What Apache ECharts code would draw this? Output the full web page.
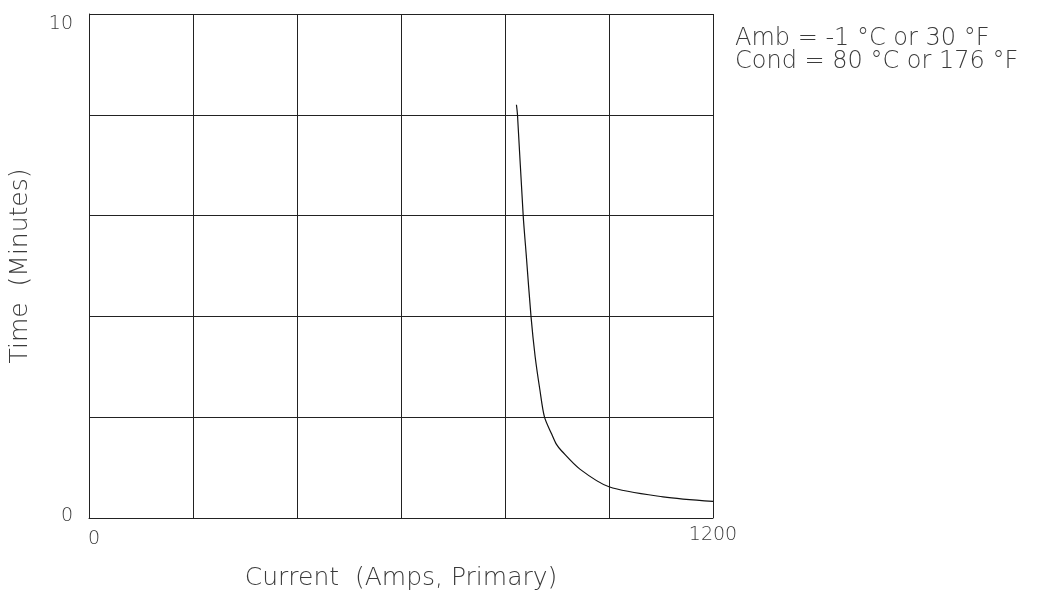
<!DOCTYPE html>
<html lang="en">
<head>
    <meta charset="UTF-8">
    <title>Time vs Current</title>
    <script src="https://cdn.jsdelivr.net/npm/echarts@6.0.0/dist/echarts.min.js"></script>
    <style>
        html, body { margin: 0; padding: 0; background: #fff; }
        #chart { width: 1054px; height: 592px; }
    </style>
</head>
<body>
    <div id="chart"></div>
    <script>
        // curve (amps, minutes)
        var currentAmps = [822, 824, 835, 841, 850, 858, 867, 876, 890, 899, 909, 944, 1000, 1104, 1200];
        var timeMinutes = [8.2, 8.0, 6.0, 5.2, 4.0, 3.2, 2.55, 2.0, 1.66, 1.46, 1.33, 0.97, 0.62, 0.42, 0.33];
        var xTickLabels = ['0', '1200'];
        var yTickLabels = ['0', '10'];
        var noteLines = ['Amb = -1 °C or 30 °F', 'Cond = 80 °C or 176 °F'];

        var chart = echarts.init(document.getElementById('chart'));
        var font = '"DejaVu Sans", sans-serif';
        var ink = '#3a3a3a';

        var points = currentAmps.map(function (a, i) { return [a, timeMinutes[i]]; });

        var labelStyle = { fontFamily: font, fontSize: 19, fontWeight: 200, color: ink };

        var option = {
            animation: false,
            backgroundColor: '#fff',
            grid: { left: 89, right: 341, top: 14, bottom: 74, outerBoundsMode: 'none' },
            xAxis: {
                type: 'value',
                min: 0,
                max: 1200,
                interval: 200,
                name: 'Current  (Amps, Primary)',
                nameLocation: 'middle',
                nameGap: 48,
                nameTextStyle: { fontFamily: font, fontSize: 25, fontWeight: 200, color: ink },
                axisLine: { show: true, lineStyle: { color: '#222', width: 1 } },
                axisTick: { show: false },
                splitLine: { show: true, lineStyle: { color: '#222', width: 1 } },
                axisLabel: {
                    margin: 8,
                    formatter: function (v) {
                        if (v === 0) return '{lo|' + xTickLabels[0] + '}';
                        if (v === 1200) return '{hi|' + xTickLabels[1] + '}';
                        return '';
                    },
                    rich: {
                        lo: Object.assign({ padding: [4, 0, 0, 10] }, labelStyle),
                        hi: Object.assign({ padding: [0, 0, 0, 0] }, labelStyle)
                    }
                }
            },
            yAxis: {
                type: 'value',
                min: 0,
                max: 10,
                interval: 2,
                name: 'Time  (Minutes)',
                nameLocation: 'middle',
                nameGap: 56,
                nameTextStyle: { fontFamily: font, fontSize: 25, fontWeight: 200, color: ink },
                axisLine: { show: true, lineStyle: { color: '#222', width: 1 } },
                axisTick: { show: false },
                splitLine: { show: true, lineStyle: { color: '#222', width: 1 } },
                axisLabel: {
                    margin: 16,
                    formatter: function (v) {
                        if (v === 0) return '{lo|' + yTickLabels[0] + '}';
                        if (v === 10) return '{hi|' + yTickLabels[1] + '}';
                        return '';
                    },
                    rich: {
                        lo: Object.assign({ padding: [0, 0, 4, 0] }, labelStyle),
                        hi: Object.assign({ padding: [20, 0, 0, 0] }, labelStyle)
                    }
                }
            },
            graphic: [{
                type: 'text',
                left: 735,
                top: 27,
                style: {
                    text: noteLines.join('\n'),
                    fontFamily: font,
                    fontSize: 24,
                    fontWeight: 200,
                    lineHeight: 23,
                    fill: ink
                }
            }],
            series: [{
                type: 'line',
                data: points,
                showSymbol: false,
                smooth: 0.3,
                lineStyle: { color: '#111', width: 1.2 }
            }]
        };

        chart.setOption(option);
    </script>
</body>
</html>
